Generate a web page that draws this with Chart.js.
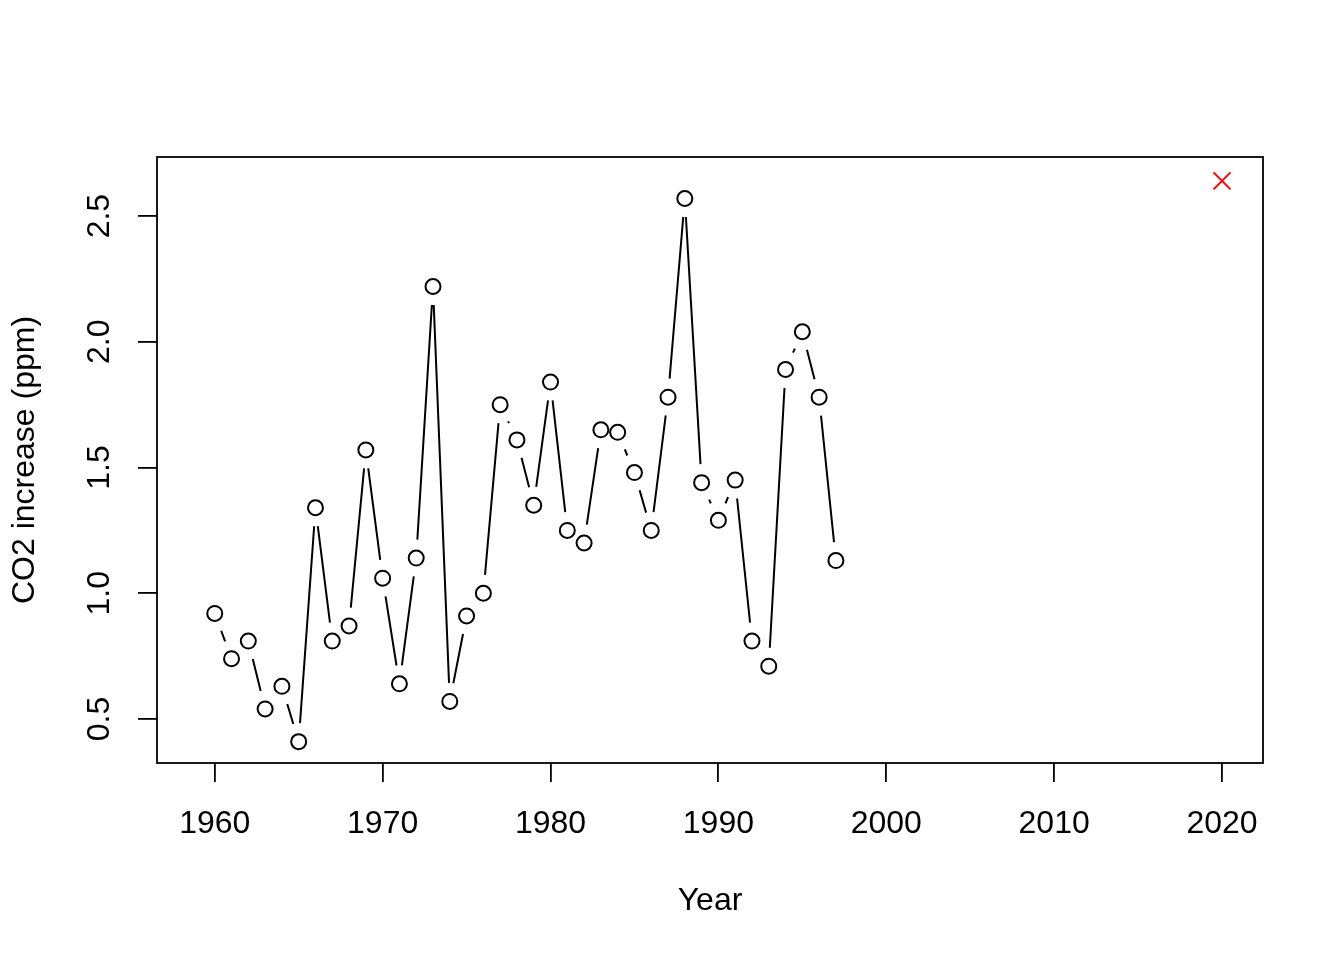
<!DOCTYPE html>
<html>
<head>
<meta charset="utf-8">
<script src="https://cdn.jsdelivr.net/npm/chart.js@4.4.1/dist/chart.umd.min.js"></script>
<style>
  html, body { margin: 0; padding: 0; background: #fff; }
  #wrap { width: 1344px; height: 960px; }
</style>
</head>
<body>
<div id="wrap"><canvas id="chart" width="1344" height="960"></canvas></div>
<script>
// yearly CO2 increase
const years = [1960, 1961, 1962, 1963, 1964, 1965, 1966, 1967, 1968, 1969,
    1970, 1971, 1972, 1973, 1974, 1975, 1976, 1977, 1978, 1979,
    1980, 1981, 1982, 1983, 1984, 1985, 1986, 1987, 1988, 1989,
    1990, 1991, 1992, 1993, 1994, 1995, 1996, 1997]
const increase = [0.92, 0.74, 0.81, 0.54, 0.63, 0.41, 1.34, 0.81, 0.87, 1.57,
    1.06, 0.64, 1.14, 2.22, 0.57, 0.91, 1.00, 1.75, 1.61, 1.35,
    1.84, 1.25, 1.20, 1.65, 1.64, 1.48, 1.25, 1.78, 2.57, 1.44,
    1.29, 1.45, 0.81, 0.71, 1.89, 2.04, 1.78, 1.13]
const predYear = [2020]
const predValue = [2.64]

const xTicks = [1960, 1970, 1980, 1990, 2000, 2010, 2020]
const yTicks = [0.5, 1.0, 1.5, 2.0, 2.5]

const FONT = "'Liberation Sans', Arial, sans-serif"
const GAP = 18.5

// R style type = "b": segments between points, cut short near each point
const gappedLines = {
    id: "gappedLines",
    beforeDatasetsDraw(chart) {
        const { ctx, scales } = chart
        ctx.save()
        ctx.strokeStyle = "#000"
        ctx.lineWidth = 2
        ctx.beginPath()
        for (let i = 0; i < years.length - 1; i++) {
            const x0 = scales.x.getPixelForValue(years[i])
            const y0 = scales.y.getPixelForValue(increase[i])
            const x1 = scales.x.getPixelForValue(years[i + 1])
            const y1 = scales.y.getPixelForValue(increase[i + 1])
            const len = Math.hypot(x1 - x0, y1 - y0)
            if (len <= 2 * GAP) continue
            const ux = (x1 - x0) / len
            const uy = (y1 - y0) / len
            ctx.moveTo(x0 + ux * GAP, y0 + uy * GAP)
            ctx.lineTo(x1 - ux * GAP, y1 - uy * GAP)
        }
        ctx.stroke()
        ctx.restore()
    },
}

const plotBox = {
    id: "plotBox",
    afterDraw(chart) {
        const { ctx, chartArea } = chart
        ctx.save()
        ctx.strokeStyle = "#000"
        ctx.lineWidth = 1.8
        ctx.strokeRect(chartArea.left, chartArea.top,
            chartArea.right - chartArea.left, chartArea.bottom - chartArea.top)
        ctx.restore()
    },
}

new Chart(document.getElementById("chart"), {
    type: "scatter",
    data: {
        datasets: [
            {
                data: years.map((y, i) => ({ x: y, y: increase[i] })),
                pointStyle: "circle",
                pointRadius: 7.5,
                pointBackgroundColor: "#fff",
                pointBorderColor: "#000",
                pointBorderWidth: 2,
            },
            {
                data: predYear.map((y, i) => ({ x: y, y: predValue[i] })),
                pointStyle: "crossRot",
                pointRadius: 12,
                pointBorderColor: "#ff0000",
                pointBorderWidth: 2,
            },
        ],
    },
    plugins: [gappedLines, plotBox],
    options: {
        responsive: false,
        animation: false,
        devicePixelRatio: 1,
        layout: { padding: { top: 157, right: 81, left: 0, bottom: 0 } },
        plugins: {
            legend: { display: false },
            tooltip: { enabled: false },
        },
        scales: {
            x: {
                type: "linear",
                min: 1956.56,
                max: 2022.44,
                afterBuildTicks: (scale) => {
                    scale.ticks = xTicks.map((v) => ({ value: v }))
                },
                afterFit: (scale) => {
                    scale.height = 197
                },
                border: { display: false },
                grid: {
                    drawOnChartArea: false,
                    drawTicks: true,
                    tickLength: 19,
                    color: "#000",
                    lineWidth: 1.8,
                },
                ticks: {
                    color: "#000",
                    font: { family: FONT, size: 32 },
                    padding: 23,
                    maxRotation: 0,
                    autoSkip: false,
                    callback: (v) => String(v),
                },
                title: {
                    display: true,
                    text: "Year",
                    color: "#000",
                    font: { family: FONT, size: 32 },
                    padding: { top: 0, bottom: 40 },
                },
            },
            y: {
                type: "linear",
                min: 0.325,
                max: 2.735,
                afterBuildTicks: (scale) => {
                    scale.ticks = yTicks.map((v) => ({ value: v }))
                },
                afterFit: (scale) => {
                    scale.width = 157
                },
                border: { display: false },
                grid: {
                    drawOnChartArea: false,
                    drawTicks: true,
                    tickLength: 19,
                    color: "#000",
                    lineWidth: 1.8,
                },
                ticks: {
                    color: "#000",
                    font: { family: FONT, size: 32 },
                    padding: 16,
                    minRotation: 90,
                    maxRotation: 90,
                    crossAlign: "center",
                    autoSkip: false,
                    callback: (v) => v.toFixed(1),
                },
                title: {
                    display: true,
                    text: "CO2 increase (ppm)",
                    color: "#000",
                    font: { family: FONT, size: 32 },
                    padding: { top: 6, bottom: 0 },
                },
            },
        },
    },
})
</script>
</body>
</html>
